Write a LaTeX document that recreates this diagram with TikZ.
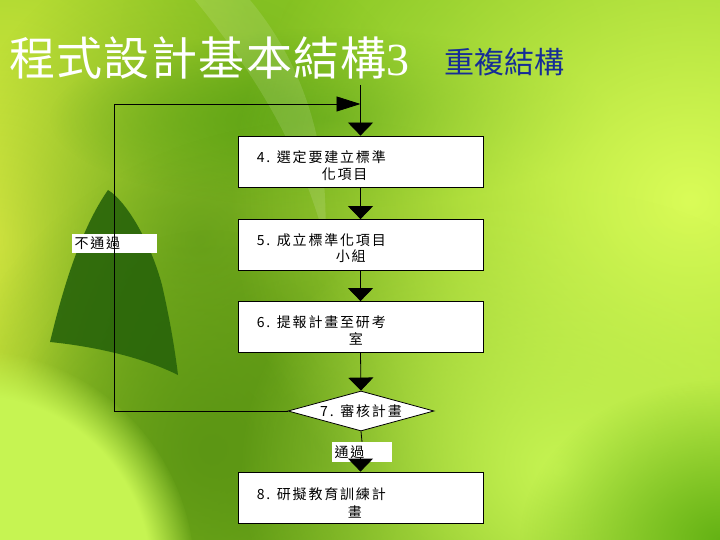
\documentclass[tikz,border=0pt]{standalone}
\usepackage{fontspec}
\setmainfont{Liberation Serif}
\newfontfamily\cjk{Noto Sans CJK TC}
\newfontfamily\cjkt{Noto Sans CJK TC}[LetterSpace=13]
\newfontfamily\cjktitle{Noto Sans CJK TC}[LetterSpace=3]
\usetikzlibrary{arrows.meta,shapes.geometric,calc,fadings}
\tikzfading[name=blobfade, inner color=transparent!0, outer color=transparent!100]
\definecolor{bgbase}{RGB}{142,202,36}
\definecolor{bgyellow}{RGB}{232,242,72}
\definecolor{bgmid}{RGB}{112,168,30}
\definecolor{bgdark}{RGB}{92,150,20}
\definecolor{bgswoosh}{RGB}{88,160,18}
\definecolor{bgleaf}{RGB}{40,100,10}
\definecolor{bglime}{RGB}{198,244,82}
\definecolor{bgbright}{RGB}{218,252,88}
\definecolor{bgcorner}{RGB}{100,178,20}
\definecolor{bgtop}{RGB}{130,194,34}
\definecolor{titleblue}{RGB}{22,45,150}
\tikzset{
  box/.style={draw=black, fill=white, line width=0.8pt, minimum width=245pt, minimum height=51pt, inner sep=0pt},
  txt/.style={font=\cjkt\fontsize{14}{16}\selectfont, inner sep=0pt, anchor=west, text=black},
  lbl/.style={fill=white, inner sep=0pt, font=\cjkt\fontsize{14}{16}\selectfont, text=black},
  conn/.style={line width=0.8pt, draw=black},
  tip/.style={-{Triangle[width=25pt,length=13pt]}},
  sidetip/.style={-{Triangle[width=15pt,length=24pt]}}
}
\begin{document}
\begin{tikzpicture}[x=1pt,y=-1pt]
\useasboundingbox (0,0) rectangle (720,540);
% ---------- background ----------
\begin{scope}
\clip (0,0) rectangle (720,540);
\fill[bgbase] (0,0) rectangle (720,540);
\fill[bgtop, path fading=blobfade] (440,30) ellipse (320 and 180);
\fill[bgyellow, path fading=blobfade] (0,240) ellipse (300 and 420);
\fill[bgmid, path fading=blobfade] (200,240) ellipse (260 and 300);
\fill[bgswoosh, path fading=blobfade] (330,118) ellipse (280 and 90);
\fill[bgdark, path fading=blobfade] (330,440) ellipse (380 and 320);
\fill[bgdark, path fading=blobfade] (210,450) ellipse (200 and 220);
\fill[bgbright, path fading=blobfade] (690,200) ellipse (460 and 420);
\fill[bglime, path fading=blobfade] (560,470) ellipse (320 and 280);
\fill[bgcorner, path fading=blobfade] (720,540) ellipse (200 and 160);
\fill[bglime, path fading=circle with fuzzy edge 20 percent] (-30,575) circle (225);
\fill[bgleaf, opacity=0.9] (108,190) .. controls (125,200) and (150,240) .. (162,285)
      .. controls (170,320) and (175,350) .. (178,375)
      .. controls (140,356) and (90,346) .. (50,342) .. controls (62,292) and (80,230) .. (108,190) -- cycle;
\fill[white, opacity=0.12] (250,0) .. controls (300,60) and (330,140) .. (325,240)
      .. controls (300,150) and (260,80) .. (195,0) -- cycle;
\end{scope}
% ---------- title ----------
\node[anchor=west, inner sep=0pt, text=white, font=\cjktitle\fontsize{46}{46}\selectfont] (title) at (9,58) {程式設計基本結構{\rmfamily 3}};
\node[anchor=west, inner sep=0pt, text=titleblue, font=\cjk\fontsize{30}{30}\selectfont] (sub) at (444,62) {重複結構};
% ---------- flowchart ----------
\coordinate (start) at (360.5,85);
\coordinate (join) at (360.5,104);
\coordinate (loopL) at (114,104);
\node[box] (b4) at (360.5,161.5) {};
\node[box] (b5) at (360.5,245) {};
\node[box] (b6) at (360.5,327) {};
\node[diamond, draw=black, fill=white, line width=0.8pt, minimum width=146pt, minimum height=40pt, aspect=3.65, inner sep=0pt, font=\cjkt\fontsize{14}{16}\selectfont] (d7) at (361,411) {7. 審核計畫};
\node[box] (b8) at (360.5,497.5) {};
\node[txt] (t4a) at ($(b4.north west)+(19,22)$) {4. 選定要建立標準};
\node[txt] (t4b) at ($(b4.north west)+(84,39)$) {化項目};
\node[txt] (t5a) at ($(b5.north west)+(19,21)$) {5. 成立標準化項目};
\node[txt] (t5b) at ($(b5.north west)+(98,37)$) {小組};
\node[txt] (t6a) at ($(b6.north west)+(19,21)$) {6. 提報計畫至研考};
\node[txt] (t6b) at ($(b6.north west)+(111,38)$) {室};
\node[txt] (t8a) at ($(b8.north west)+(19,23)$) {8. 研擬教育訓練計};
\node[txt] (t8b) at ($(b8.north west)+(110,40)$) {畫};
% labels
\node[lbl, minimum width=85pt, minimum height=19pt, text width=80pt, align=left] (nopass) at (114.5,243.5) {不通過};
\node[lbl, minimum width=60pt, minimum height=20pt, text width=55pt, align=left] (pass) at (362,452) {通過};
% connectors
\draw[conn, tip] (start) -- (b4.north);
\draw[conn, tip] (b4.south) -- (b5.north);
\draw[conn, tip] (b5.south) -- (b6.north);
\draw[conn, tip] (b6.south) -- (d7.north);
\draw[conn, sidetip] (d7.west) -| (loopL) -- (join);
\draw[conn] (d7.south) -- (pass.north);
\coordinate (tipstart) at ($(b8.north)+(0,-14)$);
\draw[conn, tip] (tipstart) -- (b8.north);
\end{tikzpicture}
\end{document}
